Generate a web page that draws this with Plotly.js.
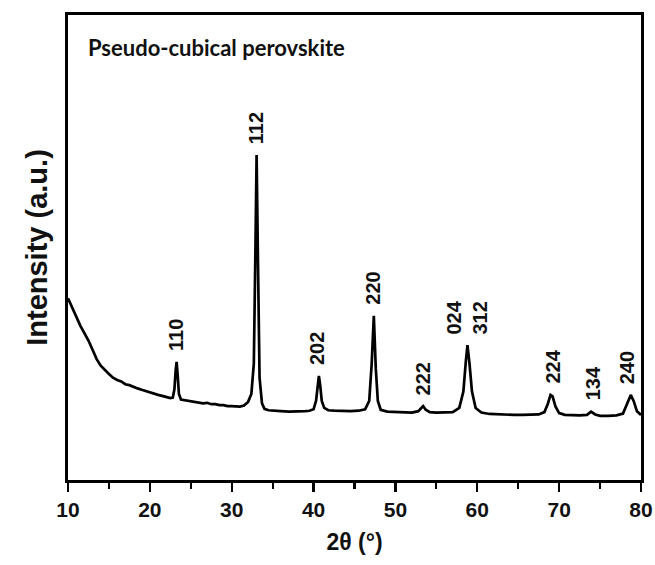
<!DOCTYPE html>
<html>
<head>
<meta charset="utf-8">
<script src="https://cdn.plot.ly/plotly-3.0.1.min.js"></script>
<style>html,body{margin:0;padding:0;background:#fff}#chart{width:655px;height:565px}</style>
</head>
<body>
<div id="chart"></div>
<script>
// 2θ (degrees)
const twoTheta = [10,10.5,11,11.5,12,12.5,13,13.5,14,14.5,15,15.5,16,16.5,17,17.5,18,18.5,19,19.5,20,20.5,21,21.5,22,22.5,22.8,23.0,23.15,23.27,23.4,23.55,23.8,24.5,25,25.5,26,26.5,27,27.5,28,28.5,29,29.5,30,30.5,31,31.5,32,32.4,32.7,32.9,33.04,33.2,33.4,33.7,34,34.5,35,36,37,38,39,39.5,40,40.3,40.5,40.65,40.8,41.0,41.3,41.8,42.5,43.5,44.5,45.5,46.3,46.8,47.1,47.36,47.6,47.85,48.2,49,50,51,52,52.8,53.1,53.38,53.7,54.2,55,56,57,57.8,58.3,58.6,58.8,59.05,59.35,59.8,60.5,61.5,62.5,63.5,64.5,65.5,66.5,67.5,68.2,68.6,68.95,69.2,69.55,70,70.7,71.5,72.5,73.4,73.9,74.4,75,76,77,77.8,78.3,78.75,79.1,79.5,80];
// Intensity (a.u.)
const intensity = [39.1,37,35,33.2,31.6,30,28,26,24.6,23.6,22.8,22,21.5,21.2,20.6,20.4,20,19.7,19.4,19.1,18.9,18.6,18.3,18.1,17.8,17.6,17.7,19.5,23.5,25.4,22.5,18.5,17.3,17.1,16.9,16.8,16.6,16.5,16.6,16.3,16.3,16.1,16.1,15.9,15.9,15.8,15.8,16,16.8,18.5,25,50,69.9,48,22,16.5,15.3,15,14.9,14.8,14.7,14.7,14.8,14.9,15.2,17,20.5,22.4,20.5,17,15.5,15.0,14.9,14.8,14.8,14.9,15.2,17,25,35.3,24,17,15.1,14.7,14.6,14.5,14.5,14.8,15.4,15.9,15.1,14.6,14.5,14.5,14.6,15.5,19,25.5,29,25,19,15.5,14.5,14.2,14.1,14.1,14.0,14.0,14.0,14.1,14.6,16.3,18.3,18,15.8,14.4,14,13.9,13.9,14.0,14.7,14.1,13.8,13.8,13.9,14.3,16.5,18.3,17,14.8,14.0];
// Peak (hkl) labels and their 2θ positions
const peakLabels = ["110","112","202","220","222","024<br>312","224","134","240"];
const peakPos = [23.2,33.0,40.5,47.3,53.35,58.8,69.2,74.1,78.4];
const xTicks = [10,20,30,40,50,60,70,80];
const xMinorTicks = [15,25,35,45,55,65,75];

function peakHeight(p){
  let m = -Infinity;
  for (let i=0;i<twoTheta.length;i++){
    if (Math.abs(twoTheta[i]-p) <= 0.6 && intensity[i] > m) m = intensity[i];
  }
  return m;
}

const annotations = peakLabels.map((t,i)=>({
  x: peakPos[i], y: peakHeight(peakPos[i]), xref:'x', yref:'y',
  text: '<b>'+t+'</b>', textangle: -90, showarrow: false,
  xanchor:'center', yanchor:'bottom', yshift: 9,
  font:{family:'Liberation Sans, Arial, sans-serif', size:20, color:'#111'}
}));
annotations.push({
  xref:'paper', yref:'paper', x:0.032, y:0.93, xanchor:'left', yanchor:'middle',
  text:'<b>Pseudo-cubical perovskite</b>', showarrow:false,
  font:{family:'Lato, Open Sans, sans-serif', size:22, color:'#111'}
});

const trace = {x: twoTheta, y: intensity, type:'scatter', mode:'lines',
  line:{color:'#000', width:2.7}, hoverinfo:'skip'};

const layout = {
  width:655, height:565,
  margin:{l:68, r:14, t:15, b:85},
  paper_bgcolor:'#fff', plot_bgcolor:'#fff',
  showlegend:false,
  font:{family:'Liberation Sans, Arial, sans-serif', color:'#111'},
  xaxis:{range:[10,80], tickmode:'array', tickvals:xTicks, ticktext:xTicks.map(String),
    ticks:'outside', ticklen:9, tickwidth:2.4, tickcolor:'#000',
    minor:{tickmode:'array', tickvals:xMinorTicks, ticks:'outside', ticklen:6, tickwidth:2.2, tickcolor:'#000'},
    showline:true, linewidth:2.6, linecolor:'#000', mirror:true,
    showgrid:false, zeroline:false,
    tickfont:{family:'Liberation Sans, Arial, sans-serif', size:21, color:'#111', weight:'bold'},
    title:{text:'<b>2θ (°)</b>', font:{size:23, color:'#111'}, standoff:14}},
  yaxis:{range:[0,100], showticklabels:false, ticks:'',
    showline:true, linewidth:2.6, linecolor:'#000', mirror:true,
    showgrid:false, zeroline:false,
    title:{text:'<b>Intensity (a.u.)</b>', font:{size:29, color:'#111'}, standoff:10}},
  annotations: annotations
};

Plotly.newPlot('chart', [trace], layout, {staticPlot:true, displayModeBar:false});
</script>
</body>
</html>
